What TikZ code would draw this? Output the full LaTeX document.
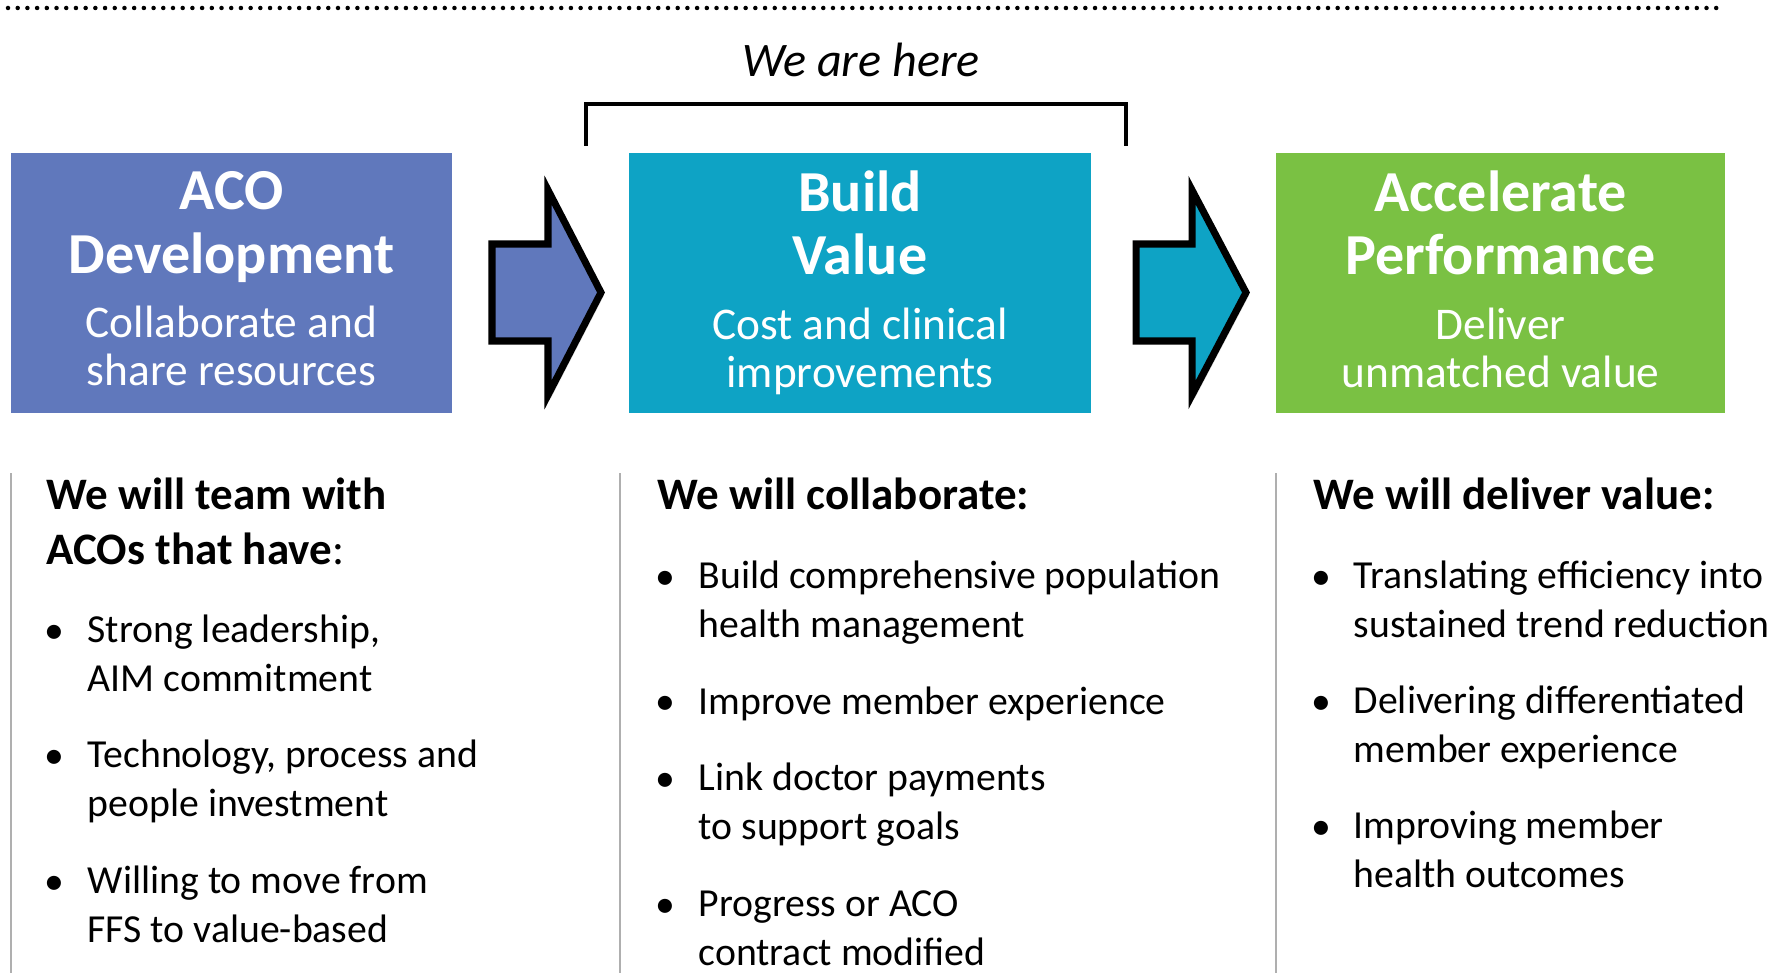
\documentclass[tikz,border=0pt]{standalone}
\usepackage{fontspec}
\setmainfont{Carlito}
\usetikzlibrary{shadows}

\definecolor{acoblue}{RGB}{96,120,188}
\definecolor{buildteal}{RGB}{14,163,197}
\definecolor{accgreen}{RGB}{122,193,67}
\definecolor{sepgray}{RGB}{175,175,175}

\newcommand\phasetitle{\fontsize{16.5}{18}\selectfont\bfseries}

\begin{document}
\begin{tikzpicture}[x=0.01cm,y=-0.01cm,
    phase/.style={minimum height=2.6cm, inner sep=0pt, text depth=2.4pt, text=white,
        align=center, font=\fontsize{12.9}{13.7}\selectfont},
    bigarrow/.style={draw=black, line width=2pt,
        drop shadow={shadow xshift=0.03cm, shadow yshift=-0.03cm, opacity=0.3}},
    head/.style={anchor=base west, inner sep=0pt, align=left,
        font=\fontsize{12.8}{15.6}\selectfont\bfseries},
    item/.style={anchor=base west, inner sep=0pt, align=left,
        font=\fontsize{11.3}{13.66}\selectfont},
    dot/.style={anchor=base, inner sep=0pt, font=\fontsize{11.3}{13.66}\selectfont},
    sep/.style={draw=sepgray, line width=0.6pt}]
    \useasboundingbox (0,0) rectangle (1773,973);

    % dotted rule on top
    \draw[line width=0.045cm, line cap=round, dash pattern=on 0pt off 0.097cm] (8,8) -- (1719,8);

    % "we are here" bracket
    \node[font=\fontsize{13.7}{15}\selectfont\itshape, anchor=base] (here) at (861,77) {We are here};
    \draw[line width=1pt] (586,146) -- (586,104) -- (1126,104) -- (1126,146);

    % the three phases
    \node[phase, fill=acoblue, minimum width=4.41cm] (aco) at (231.5,283)
        {{\phasetitle ACO}\\[4.3pt]{\phasetitle Development}\\[4.7pt]Collaborate and\\share resources};
    \node[phase, fill=buildteal, minimum width=4.62cm] (build) at (860,283)
        {{\phasetitle Build}\\[4.3pt]{\phasetitle Value}\\[4.7pt]Cost and clinical\\improvements};
    \node[phase, fill=accgreen, minimum width=4.49cm] (accel) at (1500.5,283)
        {{\phasetitle Accelerate}\\[4.3pt]{\phasetitle Performance}\\[4.7pt]Deliver\\unmatched value};

    % block arrows between phases
    \draw[bigarrow, fill=acoblue] (492,244) -- (548,244) -- (548,190) -- (601,292.5)
        -- (548,395) -- (548,341) -- (492,341) -- cycle;
    \draw[bigarrow, fill=buildteal] (1136,244) -- (1192,244) -- (1192,190) -- (1246,292.5)
        -- (1192,395) -- (1192,341) -- (1136,341) -- cycle;

    % column separators
    \draw[sep] (11,473) -- (11,973);
    \draw[sep] (620,473) -- (620,973);
    \draw[sep] (1276,473) -- (1276,973);

    % left column (multi-line nodes sit on their last baseline)
    \node[head] (teamhead) at (46,564) {We will team with\\ACOs that have{\mdseries :}};
    \node[dot] (d11) at (54,643) {\textbullet};
    \node[item] (i11) at (87,691) {Strong leadership,\\AIM commitment};
    \node[dot] (d12) at (54,768) {\textbullet};
    \node[item] (i12) at (87,816) {Technology, process and\\people investment};
    \node[dot] (d13) at (54,894) {\textbullet};
    \node[item] (i13) at (87,942) {Willing to move from\\FFS to value-based};

    % middle column
    \node[head] (collabhead) at (657,509) {We will collaborate:};
    \node[dot] (d21) at (665,589) {\textbullet};
    \node[item] (i21) at (698,637) {Build comprehensive population\\health management};
    \node[dot] (d22) at (665,714) {\textbullet};
    \node[item] (i22) at (698,714) {Improve member experience};
    \node[dot] (d23) at (665,791) {\textbullet};
    \node[item] (i23) at (698,839) {Link doctor payments\\to support goals};
    \node[dot] (d24) at (665,917) {\textbullet};
    \node[item] (i24) at (698,965) {Progress or ACO\\contract modified};

    % right column
    \node[head] (valuehead) at (1313,509) {We will deliver value:};
    \node[dot] (d31) at (1321,589) {\textbullet};
    \node[item] (i31) at (1353,637) {Translating efficiency into\\sustained trend reduction};
    \node[dot] (d32) at (1321,714) {\textbullet};
    \node[item] (i32) at (1353,762) {Delivering differentiated\\member experience};
    \node[dot] (d33) at (1321,839) {\textbullet};
    \node[item] (i33) at (1353,887) {Improving member\\health outcomes};
\end{tikzpicture}
\end{document}
